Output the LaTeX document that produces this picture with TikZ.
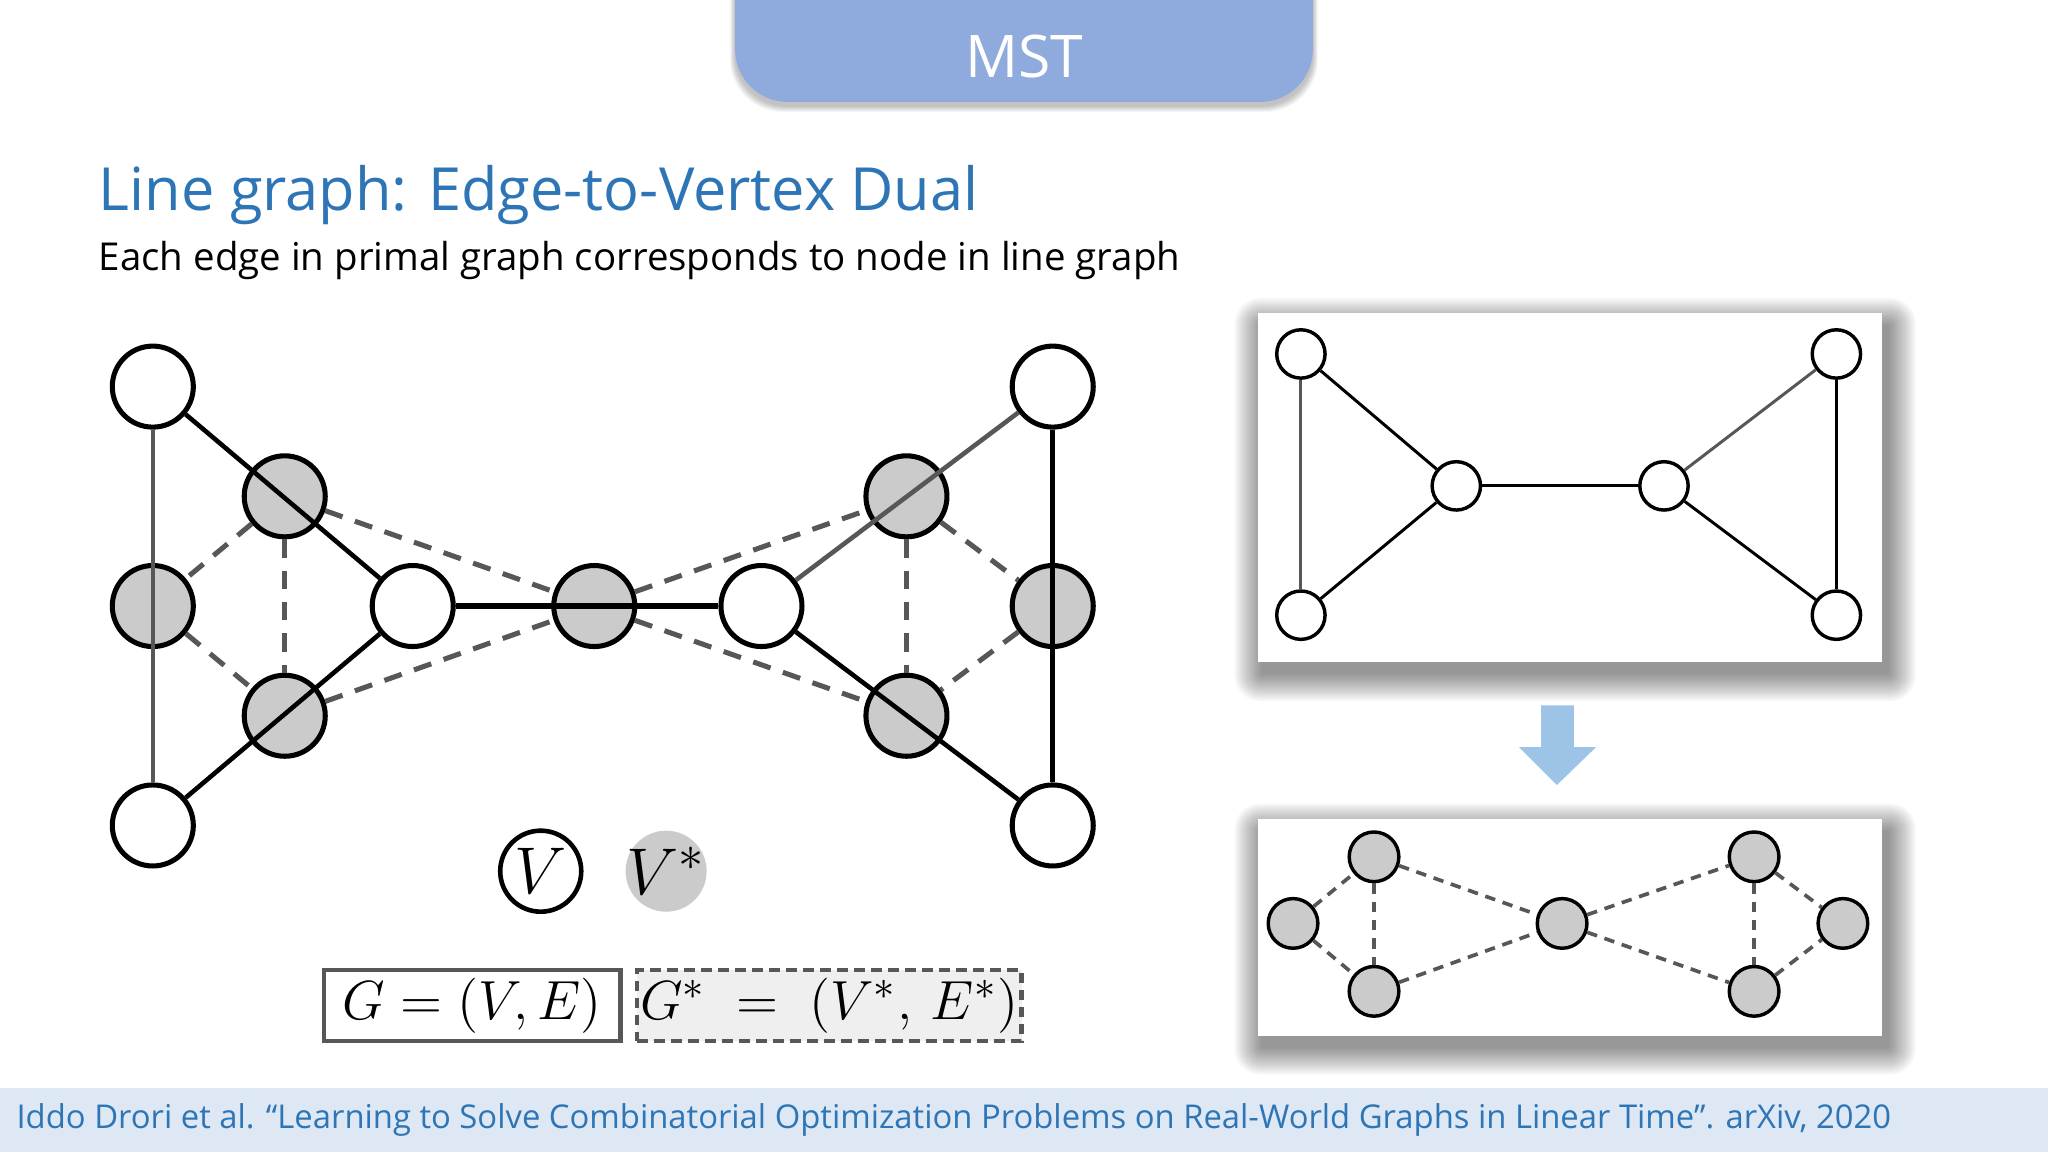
\documentclass[tikz,border=0pt]{standalone}
\usepackage{fontspec}
\setmainfont{Open Sans}
\usepackage{amsmath}
\usetikzlibrary{positioning}
\definecolor{tabblue}{HTML}{8FAADC}
\definecolor{titleblue}{HTML}{2E75B6}
\definecolor{footblue}{HTML}{DEE8F5}
\definecolor{arrowblue}{HTML}{9DC3E6}
\definecolor{dualgray}{HTML}{CBCBCB}
\definecolor{edgegray}{HTML}{575757}
\definecolor{boxgray}{HTML}{EFEFEF}
% soft shadow: x1,y1,x2,y2 of the box
\newcommand{\softshadow}[4]{%
  \foreach \i in {1,...,20}
    \fill[black, opacity=0.022, rounded corners=\i*0.01cm] (#1+4-\i*1.1,#2+10-\i*1.1) rectangle (#3+4+\i*1.1,#4+8+\i*1.1);}

\begin{document}
\begin{tikzpicture}[x=0.01cm,y=-0.01cm,
  vnode/.style={circle, draw, line width=1.1pt, fill=white, minimum size=0.62cm, inner sep=0pt},
  dnode/.style={vnode, fill=dualgray},
  svnode/.style={circle, draw, line width=0.75pt, fill=white, minimum size=0.37cm, inner sep=0pt},
  sdnode/.style={svnode, fill=dualgray, minimum size=0.38cm},
  pedge/.style={line width=1pt},
  gedge/.style={line width=1pt, edgegray},
  dedge/.style={line width=1.1pt, edgegray, dash pattern=on 0.14cm off 0.1cm},
  spedge/.style={line width=0.65pt},
  sgedge/.style={line width=0.65pt, edgegray},
  sdedge/.style={line width=0.8pt, edgegray, dash pattern=on 0.08cm off 0.06cm},
  panel/.style={fill=white, inner sep=0pt},
  eqbox/.style={minimum height=0.54cm, inner sep=0pt, line width=0.9pt, font=\fontsize{12.8pt}{15pt}\selectfont}
]
\useasboundingbox (0,0) rectangle (1568,882);
\fill[white] (0,0) rectangle (1568,882);

\foreach \i in {1,...,8}
  \fill[black, opacity=0.03, rounded corners=0.4cm] (563-\i*0.5,-60) rectangle (1005+\i*0.5,81+\i*0.6);
\node[fill=tabblue, rounded corners=0.4cm, minimum width=4.42cm, minimum height=1.38cm] (tab) at (784,9) {};
\node[text=white, font=\fontsize{12.8pt}{15pt}\selectfont] (mst) at (784,43) {MST};

\node[anchor=base west, text=titleblue, font=\fontsize{12.95pt}{15pt}\selectfont, inner sep=0pt] (title) at (75,161) {Line graph: Edge-to-Vertex Dual};
\node[anchor=base west, font=\fontsize{8.37pt}{10pt}\selectfont, inner sep=0pt] (sub) at (75,207) {Each edge in primal graph corresponds to node in line graph};

\fill[footblue] (0,833) rectangle (1568,882);
\node[anchor=base west, text=titleblue, font=\fontsize{7.14pt}{8pt}\selectfont, inner sep=0pt] (cite) at (12,864) {Iddo Drori et al. “Learning to Solve Combinatorial Optimization Problems on Real-World Graphs in Linear Time”. arXiv, 2020};

\node[vnode] (p1) at (117,296) {};
\node[vnode] (p2) at (117,632) {};
\node[vnode] (p3) at (316,464) {};
\node[vnode] (p4) at (583,464) {};
\node[vnode] (p5) at (806,296) {};
\node[vnode] (p6) at (806,632) {};
\node[dnode] (d1) at (218,380) {};
\node[dnode] (d2) at (117,464) {};
\node[dnode] (d3) at (218,548) {};
\node[dnode] (d4) at (455,464) {};
\node[dnode] (d5) at (694,380) {};
\node[dnode] (d6) at (806,464) {};
\node[dnode] (d7) at (694,548) {};

\foreach \a/\b in {d1/d2,d2/d3,d1/d3,d1/d4,d3/d4,d4/d5,d4/d7,d5/d7,d5/d6,d6/d7}
  \draw[dedge] (\a) -- (\b);

\draw[gedge] (p1) -- (p2);
\draw[pedge] (p1) -- (p3);
\draw[pedge] (p2) -- (p3);
\draw[pedge, line width=1.5pt] (p3) -- (p4);
\draw[gedge] (p4) -- (p5);
\draw[pedge] (p4) -- (p6);
\draw[pedge] (p5) -- (p6);

\node[vnode, line width=1pt, font=\fontsize{15pt}{18pt}\selectfont] (lv) at (414,667) {$V$};
\node[circle, fill=dualgray, minimum size=0.62cm, inner sep=0pt, font=\fontsize{15pt}{18pt}\selectfont] (lvs) at (510,667) {\makebox[0pt]{$V^*$}};

\node[eqbox, draw=edgegray, minimum width=2.27cm] (gbox) at (361.5,770) {$G=(V,E)$};
\node[eqbox, draw=edgegray, fill=boxgray, dash pattern=on 0.08cm off 0.05cm, minimum width=2.94cm] (gsbox) at (635,770) {$G^{*}\ =\ (V^{*},\,E^{*})$};

\softshadow{963}{240}{1441}{507}
\node[panel, minimum width=4.78cm, minimum height=2.67cm] (top) at (1202,373.5) {};
\node[svnode] (a1) at (996,271) {};
\node[svnode] (a2) at (996,471) {};
\node[svnode] (a3) at (1115,372) {};
\node[svnode] (a4) at (1274,372) {};
\node[svnode] (a5) at (1406,271) {};
\node[svnode] (a6) at (1406,471) {};
\draw[sgedge] (a1) -- (a2);
\draw[spedge] (a1) -- (a3);
\draw[spedge] (a2) -- (a3);
\draw[spedge] (a3) -- (a4);
\draw[sgedge] (a4) -- (a5);
\draw[spedge] (a4) -- (a6);
\draw[spedge] (a5) -- (a6);

\fill[arrowblue] (1180,540) -- (1205,540) -- (1205,572) -- (1222,572) -- (1192,601) -- (1163,572) -- (1180,572) -- cycle;

\softshadow{963}{627}{1441}{793}
\node[panel, minimum width=4.78cm, minimum height=1.66cm] (bot) at (1202,710) {};
\node[sdnode] (b1) at (990,707) {};
\node[sdnode] (b2) at (1052,656) {};
\node[sdnode] (b3) at (1052,759) {};
\node[sdnode] (b4) at (1196,707) {};
\node[sdnode] (b5) at (1343,656) {};
\node[sdnode] (b6) at (1343,759) {};
\node[sdnode] (b7) at (1411,707) {};
\foreach \a/\b in {b1/b2,b1/b3,b2/b3,b2/b4,b3/b4,b4/b5,b4/b6,b5/b6,b5/b7,b6/b7}
  \draw[sdedge] (\a) -- (\b);
\end{tikzpicture}
\end{document}
